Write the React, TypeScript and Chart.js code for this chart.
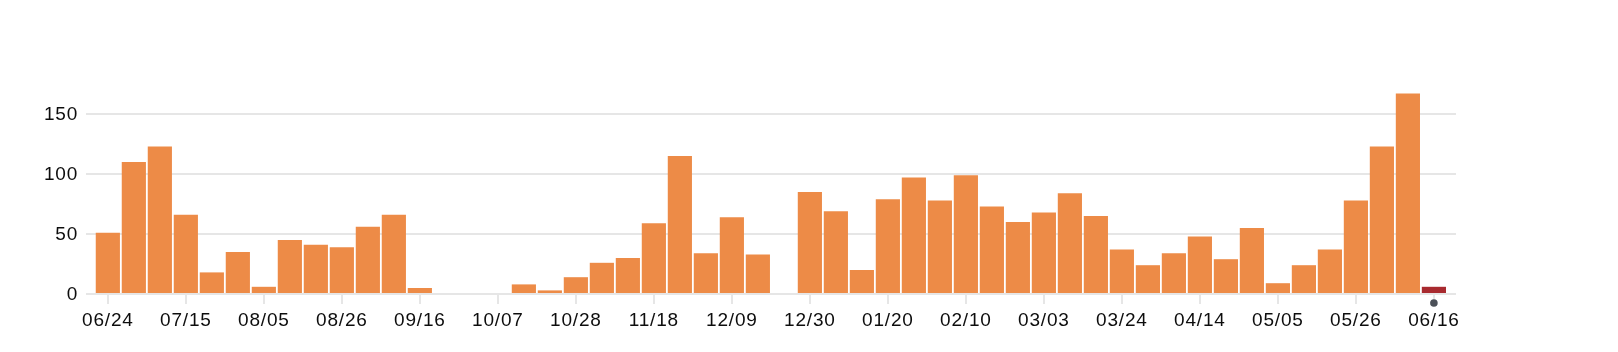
import React, { useEffect, useRef } from "react";
import { Chart, registerables } from "chart.js";

Chart.register(...registerables);

const weekLabels: string[] = [
  "06/24", "07/01", "07/08", "07/15", "07/22", "07/29", "08/05", "08/12", "08/19", "08/26",
  "09/02", "09/09", "09/16", "09/23", "09/30", "10/07", "10/14", "10/21", "10/28", "11/04",
  "11/11", "11/18", "11/25", "12/02", "12/09", "12/16", "12/23", "12/30", "01/06", "01/13",
  "01/20", "01/27", "02/03", "02/10", "02/17", "02/24", "03/03", "03/10", "03/17", "03/24",
  "03/31", "04/07", "04/14", "04/21", "04/28", "05/05", "05/12", "05/19", "05/26", "06/02",
  "06/09", "06/16",
];

const weeklyCounts: number[] = [
  51, 110, 123, 66, 18, 35, 6, 45, 41, 39,
  56, 66, 5, 0, 0, 0, 8, 3, 14, 26,
  30, 59, 115, 34, 64, 33, 0, 85, 69, 20,
  79, 97, 78, 99, 73, 60, 68, 84, 65, 37,
  24, 34, 48, 29, 55, 9, 24, 37, 78, 123,
  167, 6,
];

const tickEvery = 3;
const yTicks: number[] = [0, 50, 100, 150];
const currentWeekIndex = weeklyCounts.length - 1;

const ORANGE = "#ED8B47";
const RED = "#A82A2F";
const DOT = "#4B5058";
const GRID = "#E6E6E6";
const FONT = { family: "'Liberation Sans', Helvetica, Arial, sans-serif", size: 19 };

export default function App() {
  const ref = useRef<HTMLCanvasElement | null>(null);

  useEffect(() => {
    if (!ref.current) return;
    const tickIdx = weekLabels.map((_, i) => i).filter((i) => i % tickEvery === 0);

    const spacingPlugin = {
      id: "letterSpacing",
      beforeDraw(chart: any) {
        chart.ctx.letterSpacing = "0.8px";
      },
      afterDraw(chart: any) {
        chart.ctx.letterSpacing = "0px";
      },
    };

    const dotPlugin = {
      id: "currentDot",
      afterDatasetsDraw(chart: any) {
        const ctx = chart.ctx;
        const x = chart.scales.x.getPixelForValue(currentWeekIndex);
        const y = chart.chartArea.bottom + 9;
        ctx.save();
        ctx.beginPath();
        ctx.arc(x, y, 3.8, 0, Math.PI * 2);
        ctx.fillStyle = DOT;
        ctx.fill();
        ctx.restore();
      },
    };

    const chart = new Chart(ref.current, {
      type: "bar",
      data: {
        datasets: [
          {
            data: weeklyCounts.map((v, i) => ({ x: i, y: v })),
            backgroundColor: weeklyCounts.map((_, i) => (i === currentWeekIndex ? RED : ORANGE)),
            borderWidth: 0,
            barPercentage: 0.93,
            categoryPercentage: 1,
          },
        ],
      },
      options: {
        responsive: false,
        animation: false,
        layout: { padding: { top: 90, right: 162, bottom: 0, left: 0 } },
        plugins: { legend: { display: false }, tooltip: { enabled: false } },
        scales: {
          x: {
            type: "linear",
            offset: false,
            min: -0.84,
            max: 51.85,
            grid: {
              offset: false,
              drawOnChartArea: false,
              drawTicks: true,
              tickLength: 10,
              color: GRID,
              lineWidth: 2,
            },
            border: { display: false },
            ticks: {
              autoSkip: false,
              maxRotation: 0,
              padding: 5,
              color: "#0d0d0d",
              font: FONT,
              callback: (v: any) => weekLabels[Number(v)] ?? "",
            },
            afterBuildTicks: (s: any) => {
              s.ticks = tickIdx.map((v) => ({ value: v }));
            },
            afterFit: (s: any) => {
              s.height = 58;
            },
          },
          y: {
            min: 0,
            max: 170,
            grid: { color: GRID, lineWidth: 2, drawTicks: false },
            border: { display: false },
            ticks: {
              includeBounds: false,
              stepSize: 50,
              padding: 8,
              labelOffset: 1,
              color: "#0d0d0d",
              font: FONT,
            },
            afterBuildTicks: (s: any) => {
              s.ticks = yTicks.map((v) => ({ value: v }));
            },
            afterFit: (s: any) => {
              s.width = 86;
            },
          },
        },
      },
      plugins: [spacingPlugin, dotPlugin],
    } as any);
    return () => chart.destroy();
  }, []);

  return (
    <div style={{ position: "fixed", left: 0, top: 0, width: 1618, height: 352, background: "#fff" }}>
      <canvas ref={ref} width={1618} height={352} style={{ width: 1618, height: 352, display: "block" }} />
    </div>
  );
}
